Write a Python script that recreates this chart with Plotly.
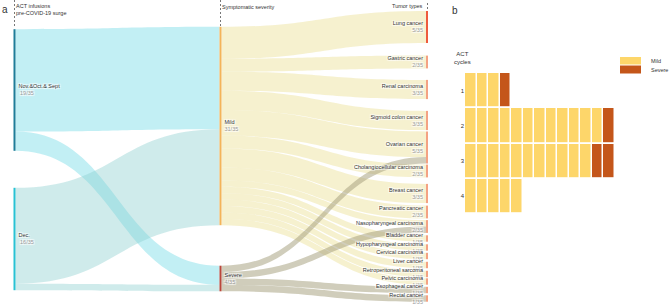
import plotly.graph_objects as go

# ---------------- data ----------------
infusion_groups = ["Nov.&amp;Oct.& Sept", "Dec."]
severity_groups = ["Mild", "Severe"]
tumor_types = ["Lung cancer", "Gastric cancer", "Renal carcinoma", "Sigmoid colon cancer",
               "Ovarian cancer", "Cholangiocellular carcinoma", "Breast cancer", "Pancreatic cancer",
               "Nasopharyngeal carcinoma", "Bladder cancer", "Hypopharyngeal carcinoma",
               "Cervical carcinoma", "Liver cancer", "Retroperitoneal sarcoma", "Pelvic carcinoma",
               "Esophageal cancer", "Rectal cancer"]
total_patients = 35

# infusion group -> severity (rows: Nov&Oct&Sept, Dec ; cols: Mild, Severe)
infusion_to_severity = [[16, 3],
                        [15, 1]]
mild_to_tumor = [5, 2, 3, 3, 4, 2, 3, 2, 1, 1, 1, 1, 1, 1, 1, 0, 0]
severe_to_tumor = [0, 0, 0, 0, 1, 0, 0, 0, 1, 0, 0, 0, 0, 0, 0, 1, 1]

# waffle: ACT cycles
act_cycles = ["1", "2", "3", "4"]
mild_per_cycle = [3, 12, 11, 5]
severe_per_cycle = [1, 1, 2, 0]

# ---------------- styling ----------------
W, H = 669, 308
FONT = "Liberation Sans, Arial, sans-serif"
GRAY = "#9a9a9a"
SANKEY_W = W * 0.66

def frac(n):
    return f"<span style='color:{GRAY}'>{n}/{total_patients}</span>"

inf_tot = [sum(r) for r in infusion_to_severity]
sev_tot = [sum(r[j] for r in infusion_to_severity) for j in range(2)]
tum_tot = [a + b for a, b in zip(mild_to_tumor, severe_to_tumor)]

labels = ([f"{n}<br> {frac(v)}" for n, v in zip(infusion_groups, inf_tot)] +
          [f"{n}<br>{frac(v)}" for n, v in zip(severity_groups, sev_tot)] +
          [f"{n}<br>{frac(v)}" for n, v in zip(tumor_types, tum_tot)])

# layout positions (pixel centres) of the node columns
col_px = [14.5, 220.5, 427]
inf_y = [90, 239]
sev_y = [126, 278.5]
tum_y = [27, 62, 89.5, 120.5, 147.5, 171, 193.5, 212, 226.5, 238.5, 247.5, 256, 265, 274,
         281.5, 290, 298.5]

node_x = [col_px[0] / SANKEY_W] * 2 + [col_px[1] / SANKEY_W] * 2 + [col_px[2] / SANKEY_W] * len(tumor_types)
node_y = [v / H for v in inf_y + sev_y + tum_y]
node_colors = ["#1f7d98", "#29c2d3", "#f3b45a", "#b9473a", "#ee5b3e"] + ["#f4a283"] * (len(tumor_types) - 1)

src, tgt, val, lcol = [], [], [], []
inf_link_colors = ["rgba(110,216,229,0.42)", "rgba(140,208,208,0.42)"]
for i in range(2):
    for j in range(2):
        src.append(i); tgt.append(2 + j); val.append(infusion_to_severity[i][j]); lcol.append(inf_link_colors[i])
for k, v in enumerate(mild_to_tumor):
    if v:
        src.append(2); tgt.append(4 + k); val.append(v); lcol.append("rgba(238,228,160,0.5)")
for k, v in enumerate(severe_to_tumor):
    if v:
        src.append(3); tgt.append(4 + k); val.append(v); lcol.append("rgba(165,160,125,0.52)")

fig = go.Figure()
fig.add_trace(go.Sankey(
    domain=dict(x=[0, 0.66], y=[0, 1]),
    arrangement="fixed",
    hoverinfo="none",
    textfont=dict(family=FONT, size=5.5, color="#333333"),
    node=dict(label=labels, x=node_x, y=node_y, pad=5.25, thickness=2,
              color=node_colors, line=dict(width=0), hoverinfo="none"),
    link=dict(source=src, target=tgt, value=val, color=lcol, hoverinfo="none"),
))

# waffle (heatmap)
ncols = max(m + s for m, s in zip(mild_per_cycle, severe_per_cycle))
z = []
for m, s in zip(mild_per_cycle, severe_per_cycle):
    row = [0] * m + [1] * s + [None] * (ncols - m - s)
    z.append(row)
fig.add_trace(go.Heatmap(
    z=z, x=list(range(ncols)), y=act_cycles, xaxis="x", yaxis="y",
    colorscale=[[0, "#fdd66a"], [0.5, "#fdd66a"], [0.5, "#c4561a"], [1, "#c4561a"]],
    zmin=0, zmax=1, showscale=False, xgap=1.5, ygap=1.8, hoverinfo="skip",
))

fig.update_layout(
    width=W, height=H, margin=dict(l=0, r=0, t=0, b=0),
    paper_bgcolor="white", plot_bgcolor="white",
    font=dict(family=FONT, size=6, color="#333333"),
    showlegend=False,
    xaxis=dict(domain=[465 / W, 614.5 / W], range=[-0.5, ncols - 0.5], visible=False, fixedrange=True),
    yaxis=dict(domain=[1 - 214 / H, 1 - 73 / H], range=[3.5, -0.5], type="category",
               showgrid=False, zeroline=False, showline=False, ticks="",
               tickfont=dict(size=6, color="#333333"), fixedrange=True),
)

def ann(x, y, text, size=5.5, xanchor="left", yanchor="top", align="left", color="#333333"):
    fig.add_annotation(x=x / W, y=1 - y / H, xref="paper", yref="paper", text=text,
                       showarrow=False, xanchor=xanchor, yanchor=yanchor, align=align,
                       font=dict(size=size, color=color, family=FONT), borderpad=0)

ann(1, 3, "a", size=10)
ann(15, 2.5, "ACT infusions<br>pre-COVID-19 surge")
ann(221, 3.5, "Symptomatic severity")
ann(424, 1.5, "Tumor types", xanchor="right", align="right")
ann(451, 4, "b", size=10)
ann(462, 50, "ACT<br>cycles", xanchor="center", align="center", size=6)

# dashed guides
for x0, y0, y1 in [(14.5, 0, 27), (220.5, 0, 27), (427.5, 3, 10)]:
    fig.add_shape(type="line", xref="paper", yref="paper", x0=x0 / W, x1=x0 / W,
                  y0=1 - y0 / H, y1=1 - y1 / H, line=dict(color="#555555", width=0.8, dash="2px,2px"))

# legend for waffle
for (yt, yb), name, c in [((57, 64.5), "Mild", "#fdd66a"), ((65.5, 73.5), "Severe", "#c4561a")]:
    fig.add_shape(type="rect", xref="paper", yref="paper", x0=620 / W, x1=641 / W,
                  y0=1 - yb / H, y1=1 - yt / H, fillcolor=c, line=dict(width=0))
    ann(650, (yt + yb) / 2, name, size=5.5, yanchor="middle")

fig.write_html("out.html", config={"displayModeBar": False},
               post_script="document.body.style.margin='0px';document.body.style.overflow='hidden';")
